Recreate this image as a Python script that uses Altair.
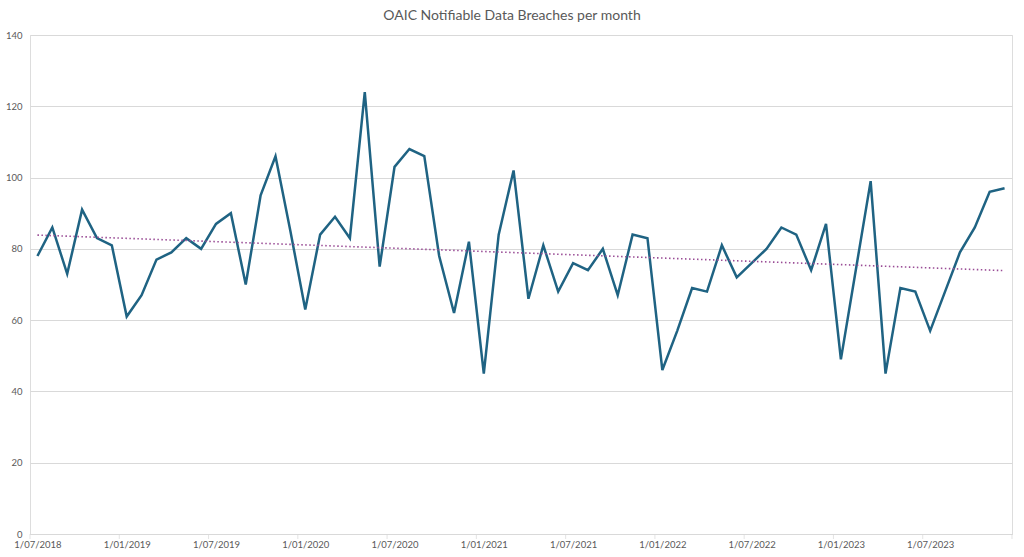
import json
import altair as alt
import pandas as pd

months = pd.date_range("2018-07-01", "2023-12-01", freq="MS").strftime("%Y-%m").tolist()
breaches = [78, 86, 73, 91, 83, 81, 61, 67, 77, 79, 83, 80,
            87, 90, 70, 95, 106, 85, 63, 84, 89, 83, 124, 75,
            103, 108, 106, 78, 62, 82, 45, 84, 102, 66, 81, 68,
            76, 74, 80, 67, 84, 83, 46, 57, 69, 68, 81, 72,
            76, 80, 86, 84, 74, 87, 49, 74, 99, 45, 69, 68,
            57, 68, 79, 86, 96, 97]
tick_labels = ["1/07/2018", "1/01/2019", "1/07/2019", "1/01/2020", "1/07/2020",
               "1/01/2021", "1/07/2021", "1/01/2022", "1/07/2022", "1/01/2023",
               "1/07/2023"]
y_ticks = [0, 20, 40, 60, 80, 100, 120, 140]
title_text = ["OAIC Notifiable Data Breaches per month"]

df = pd.DataFrame({"month": months, "value": breaches})
df["pos"] = [i + 0.5 for i in range(len(months))]

n = len(months)
label_arr = json.dumps(tick_labels)
tick_df = pd.DataFrame({"tick": list(range(0, n + 1, 6))})

x_enc = alt.X(
    "pos:Q",
    scale=alt.Scale(domain=[0, n], nice=False, zero=False),
    axis=alt.Axis(
        values=[v + 0.5 for v in range(0, n, 6)],
        labelExpr=f"{label_arr}[floor(datum.value / 6)]",
        labelFont="Lato", labelFontSize=9.5, labelColor="#595959",
        labelPadding=5, labelFlush=False,
        domainColor="#d9d9d9", ticks=False,
        grid=False, title=None,
    ),
)
y_enc = alt.Y(
    "value:Q",
    scale=alt.Scale(domain=[0, 140], nice=False),
    axis=alt.Axis(
        values=y_ticks, grid=True, gridColor="#d9d9d9", domain=False, ticks=False,
        labelFont="Lato", labelFontSize=9.5, labelColor="#595959", labelPadding=8,
        title=None,
    ),
)

base = alt.Chart(df)
line = base.mark_line(color="#1f6383", strokeWidth=2.5).encode(x=x_enc, y=y_enc)
trend = base.transform_regression("pos", "value").mark_line(
    color="#9a4d96", strokeWidth=1.6, strokeDash=[1.5, 2.5]
).encode(x="pos:Q", y="value:Q")
ticks = alt.Chart(tick_df).mark_tick(
    color="#d9d9d9", orient="vertical", size=5, thickness=1
).encode(x="tick:Q", y=alt.value(501.5))
title = alt.Chart(pd.DataFrame({"t": title_text})).mark_text(
    font="Lato", fontSize=14, color="#595959", align="center", baseline="middle"
).encode(text="t:N", x=alt.value(482), y=alt.value(-19))

chart = (
    alt.layer(line, trend, ticks, title)
    .properties(
        width=982, height=499,
        autosize=alt.AutoSizeParams(type="none"),
        padding={"left": 30, "top": 35, "right": 12, "bottom": 23},
    )
    .configure_view(stroke="transparent", strokeWidth=0)
    .configure_axisY(domain=False, ticks=False)
    .configure_axisX(grid=False)
    .configure(background="white")
)

chart.save("out.html", embed_options={"renderer": "svg", "actions": False})
